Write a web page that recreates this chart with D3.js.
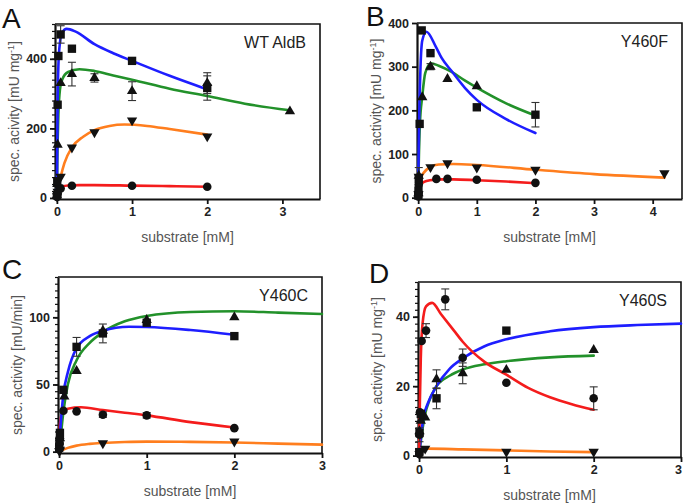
<!DOCTYPE html>
<html>
<head>
<meta charset="utf-8">
<script src="https://cdn.jsdelivr.net/npm/d3@7"></script>
<style>
  body { margin: 0; background: #fff; }
  svg { display: block; }
</style>
</head>
<body>
<div id="chart"></div>
<script>
// ---- data: [substrate mM, activity, error] ----

// A: WT AldB
var wtSquares = [[0.002,8],[0.005,48],[0.01,268],[0.02,408],[0.05,470,25],[0.2,429],[1,394],[2,316,35]];
var wtTriangles = [[0.002,8],[0.005,40],[0.01,153],[0.05,330],[0.2,356,34],[0.5,345,12],[1,307,27],[2,330,30],[3.1,249]];
var wtInverted = [[0.002,5],[0.01,18],[0.02,30],[0.05,61],[0.2,145],[0.5,189],[1,223],[2,177]];
var wtCircles = [[0.002,3],[0.005,8],[0.01,14],[0.05,27],[0.2,35],[1,35],[2,32]];
var wtBlueFit = [[0,0],[0.005,150],[0.01,270],[0.02,380],[0.04,445],[0.07,475],[0.13,486],[0.25,478],[0.5,442],[0.75,416],[1,394],[1.5,351],[2,312]];
var wtGreenFit = [[0,0],[0.005,100],[0.01,160],[0.02,240],[0.04,310],[0.07,340],[0.15,362],[0.3,370],[0.5,365],[0.75,352],[1,340],[1.5,314],[2,293],[2.5,271],[3.1,252]];
var wtOrangeFit = [[0,0],[0.02,30],[0.05,60],[0.1,100],[0.2,145],[0.35,176],[0.5,195],[0.7,207],[0.9,211],[1.2,207],[1.5,198],[2,182]];
var wtRedFit = [[0,0],[0.01,15],[0.03,27],[0.07,33],[0.15,36],[0.3,37],[0.5,37],[1,35.5],[1.5,34],[2,32]];

// B: Y460F
var fSquares = [[0.002,5],[0.005,16],[0.01,43],[0.025,169],[0.06,383],[0.21,331],[1,207],[2,190,28]];
var fTriangles = [[0.005,10],[0.01,50],[0.07,230],[0.21,300,7],[0.5,272],[1,255]];
var fInverted = [[0.005,8],[0.01,48,21],[0.21,70],[0.5,79],[1,69],[2,64],[4.2,56]];
var fCircles = [[0.002,3],[0.005,12],[0.01,30],[0.31,43],[0.5,43],[1,41],[2,34]];
var fBlueFit = [[0,0],[0.005,60],[0.01,120],[0.02,200],[0.04,300],[0.07,360],[0.14,380],[0.3,346],[0.4,320],[0.57,290],[0.8,251],[1,224],[1.5,180],[2,148]];
var fGreenFit = [[0,0],[0.01,80],[0.03,170],[0.07,232],[0.12,285],[0.22,308],[0.35,302],[0.57,288],[0.8,268],[1,252],[1.5,216],[2,188]];
var fOrangeFit = [[0,0],[0.01,12],[0.03,35],[0.07,52],[0.1,58],[0.2,70],[0.35,76],[0.6,77],[1,75],[2,64],[3,54],[4.2,46]];
var fRedFit = [[0,0],[0.01,15],[0.03,28],[0.1,36],[0.2,40],[0.4,42],[0.6,42],[1,40],[1.5,37],[2,33]];

// C: Y460C
var cSquares = [[0.002,3],[0.005,8],[0.01,14],[0.05,46],[0.2,78,7],[0.5,88,7],[1,96],[2,86]];
var cTriangles = [[0.005,4],[0.01,10],[0.06,41],[0.2,60],[0.5,90],[1,98],[2,100]];
var cInverted = [[0.005,0.5],[0.01,1.5],[0.5,6.3],[2,7.5]];
var cCircles = [[0.002,2],[0.005,6],[0.01,10],[0.05,30.5],[0.2,30],[0.5,27.5,2],[1,27,2],[2,17.5]];
var cBlueFit = [[0,0],[0.01,12],[0.03,30],[0.05,43],[0.1,59],[0.2,77],[0.35,86],[0.5,90],[0.8,93],[1,92.8],[1.5,90.5],[2,87]];
var cGreenFit = [[0,0],[0.02,12],[0.05,30],[0.1,50],[0.2,68],[0.35,81],[0.5,89],[0.75,97],[1,101],[1.5,104],[2,104.5],[2.5,103.5],[3,102.5]];
var cOrangeFit = [[0,0],[0.05,1.5],[0.1,2.8],[0.2,4.5],[0.35,5.8],[0.5,6.5],[0.75,7.2],[1,7.5],[1.5,7.3],[2,6.8],[2.5,6],[3,5.2]];
var cRedFit = [[0,0],[0.005,15],[0.02,25],[0.05,30],[0.1,32],[0.25,33],[0.5,31],[0.75,29],[1,27],[1.5,22],[2,18]];

// D: Y460S
var sSquares = [[0.002,1],[0.005,6.5],[0.02,12],[0.2,16.5,3],[1,36]];
var sTriangles = [[0.005,7],[0.02,10],[0.07,11],[0.2,22,2.7],[0.5,23.7,3],[1,24.7],[2,30.4]];
var sInverted = [[0.005,0.5],[0.07,2],[1,1.1],[2,1.1]];
var sCircles = [[0.002,0.5],[0.005,6,2],[0.01,12.5],[0.03,33],[0.08,36,2],[0.3,45,3],[0.5,28.2,2.5],[1,21],[2,16.5,3.3]];
var sBlueFit = [[0,0],[0.02,5],[0.05,11],[0.1,15],[0.2,20],[0.35,25],[0.5,28],[0.75,31.5],[1,33.5],[1.5,35.8],[2,37],[2.5,37.6],[3,38]];
var sGreenFit = [[0,0],[0.03,6],[0.07,12],[0.12,16],[0.2,20],[0.35,23],[0.5,24.8],[0.75,26.3],[1,27.2],[1.5,28.3],[2,28.8]];
var sOrangeFit = [[0,0],[0.01,1],[0.05,1.8],[0.1,2],[0.5,1.8],[1,1.5],[1.5,1.2],[2,1]];
var sRedFit = [[0,0],[0.005,8],[0.01,16],[0.02,28],[0.04,38],[0.08,43],[0.15,44],[0.25,40.8],[0.4,36],[0.5,32.8],[0.75,27],[1,23.3],[1.25,19.5],[1.5,16.8],[1.75,14.8],[2,13.2]];

// tick labels
var ticksA = [0, 200, 400];
var ticksB = [0, 100, 200, 300, 400];
var ticksC = [0, 50, 100];
var ticksD = [0, 20, 40];
var xTicks3 = [0, 1, 2, 3];
var xTicks4 = [0, 1, 2, 3, 4];
// -------------------------------------------------------------

var colors = { sq: "#1e1eff", tri: "#22912a", inv: "#ff7e1e", cir: "#f41c1c" };

var svg = d3.select("#chart").append("svg")
  .attr("width", 685)
  .attr("height", 503);

var panels = [
  { letter: "A", lx: 2, ly: 28, title: "WT AldB", ylab: "spec. acivity [mU mg", sup: true,
    box: { l: 55, r: 320, t: 24, b: 199 }, xd: [-0.025, 3.5], yd: [-3, 500],
    xt: xTicks3, yt: ticksA, minor: 20,
    sq: wtSquares, tri: wtTriangles, inv: wtInverted, cir: wtCircles,
    fits: [[wtOrangeFit, "inv"], [wtRedFit, "cir"], [wtGreenFit, "tri"], [wtBlueFit, "sq"]] },
  { letter: "B", lx: 366, ly: 26, title: "Y460F", ylab: "spec. activity [mU mg", sup: true,
    box: { l: 417, r: 682, t: 23, b: 199 }, xd: [-0.02, 4.5], yd: [-3, 400],
    xt: xTicks4, yt: ticksB, minor: 0,
    sq: fSquares, tri: fTriangles, inv: fInverted, cir: fCircles,
    fits: [[fOrangeFit, "inv"], [fRedFit, "cir"], [fGreenFit, "tri"], [fBlueFit, "sq"]] },
  { letter: "C", lx: 2, ly: 279, title: "Y460C", ylab: "spec. activity [mU/min]", sup: false,
    box: { l: 58, r: 322, t: 277, b: 453 }, xd: [-0.012, 3], yd: [-1, 130],
    xt: xTicks3, yt: ticksC, minor: 5,
    sq: cSquares, tri: cTriangles, inv: cInverted, cir: cCircles,
    fits: [[cOrangeFit, "inv"], [cRedFit, "cir"], [cGreenFit, "tri"], [cBlueFit, "sq"]] },
  { letter: "D", lx: 369, ly: 283, title: "Y460S", ylab: "spec. activity [mU mg", sup: true,
    box: { l: 418, r: 681, t: 282, b: 457 }, xd: [-0.012, 3], yd: [-0.4, 50],
    xt: xTicks3, yt: ticksD, minor: 2,
    sq: sSquares, tri: sTriangles, inv: sInverted, cir: sCircles,
    fits: [[sOrangeFit, "inv"], [sGreenFit, "tri"], [sBlueFit, "sq"], [sRedFit, "cir"]] }
];

panels.forEach(drawPanel);

function drawPanel(p) {
  var b = p.box;
  var x = d3.scaleLinear().domain(p.xd).range([b.l, b.r]);
  var y = d3.scaleLinear().domain(p.yd).range([b.b, b.t]);
  var g = svg.append("g");

  // thin frame on top and right
  g.append("path")
    .attr("d", "M" + b.l + "," + b.t + "H" + b.r + "V" + b.b)
    .attr("fill", "none")
    .attr("stroke", "#111")
    .attr("stroke-width", 1.6);

  // minor y ticks
  if (p.minor) {
    var minorVals = d3.range(0, p.yd[1] + 0.001, p.minor);
    g.append("g")
      .attr("transform", "translate(" + b.l + ",0)")
      .call(d3.axisLeft(y).tickValues(minorVals).tickSize(3).tickFormat(""))
      .call(function (s) { s.select(".domain").remove(); })
      .selectAll("line").attr("stroke", "#111").attr("stroke-width", 1.2);
  }

  var yAxis = g.append("g")
    .attr("transform", "translate(" + b.l + ",0)")
    .call(d3.axisLeft(y).tickValues(p.yt).tickSize(5).tickSizeOuter(0).tickPadding(3).tickFormat(d3.format("d")));
  var xAxis = g.append("g")
    .attr("transform", "translate(0," + b.b + ")")
    .call(d3.axisBottom(x).tickValues(p.xt).tickSize(5).tickSizeOuter(0).tickPadding(3).tickFormat(d3.format("d")));

  [yAxis, xAxis].forEach(function (ax) {
    ax.select(".domain").attr("stroke", "#111").attr("stroke-width", 2.2);
    ax.selectAll(".tick line").attr("stroke", "#111").attr("stroke-width", 1.8);
    ax.selectAll("text")
      .attr("fill", "#222")
      .style("font-family", "'Liberation Sans', Arial, sans-serif")
      .style("font-size", "12.5px")
      .style("font-weight", "bold");
  });

  // keep a tick label at the far right edge inside the page
  xAxis.selectAll(".tick text")
    .attr("dx", function (d) { return x(d) + 5 > 685 ? -3 : 0; });

  // fitted curves
  var line = d3.line()
    .x(function (d) { return x(d[0]); })
    .y(function (d) { return y(d[1]); })
    .curve(d3.curveMonotoneX);
  p.fits.forEach(function (f) {
    g.append("path")
      .datum(f[0])
      .attr("d", line)
      .attr("fill", "none")
      .attr("stroke", colors[f[1]])
      .attr("stroke-width", 2.6)
      .attr("stroke-linecap", "round");
  });

  // error bars
  var allPts = [].concat(p.sq, p.tri, p.inv, p.cir).filter(function (d) { return d[2]; });
  var eb = g.append("g").attr("stroke", "#333").attr("stroke-width", 1.1);
  allPts.forEach(function (d) {
    var cx = x(d[0]);
    eb.append("line").attr("x1", cx).attr("x2", cx).attr("y1", y(d[1] - d[2])).attr("y2", y(d[1] + d[2]));
    [d[1] - d[2], d[1] + d[2]].forEach(function (v) {
      eb.append("line").attr("x1", cx - 4).attr("x2", cx + 4).attr("y1", y(v)).attr("y2", y(v));
    });
  });

  // markers
  var sym = {
    sq: d3.symbol().type(d3.symbolSquare).size(70),
    tri: d3.symbol().type(d3.symbolTriangle).size(46),
    inv: d3.symbol().type(d3.symbolTriangle).size(46),
    cir: d3.symbol().type(d3.symbolCircle).size(58)
  };
  ["inv", "cir", "tri", "sq"].forEach(function (k) {
    g.selectAll(".m" + k)
      .data(p[k])
      .enter().append("path")
      .attr("d", sym[k])
      .attr("fill", "#111")
      .attr("transform", function (d) {
        return "translate(" + x(d[0]) + "," + y(d[1]) + ")" + (k === "inv" ? " rotate(180)" : "");
      });
  });

  // panel letter
  svg.append("text")
    .attr("x", p.lx).attr("y", p.ly)
    .style("font-family", "'Liberation Sans', Arial, sans-serif")
    .style("font-size", "28px")
    .attr("fill", "#111")
    .text(p.letter);

  // inner title
  svg.append("text")
    .attr("x", b.r - 14).attr("y", b.t + 24)
    .attr("text-anchor", "end")
    .style("font-family", "'Liberation Sans', Arial, sans-serif")
    .style("font-size", "16px")
    .attr("fill", "#222")
    .text(p.title);

  // x label
  svg.append("text")
    .attr("x", (b.l + b.r) / 2).attr("y", b.b + 43)
    .attr("text-anchor", "middle")
    .style("font-family", "'Liberation Sans', Arial, sans-serif")
    .style("font-size", "14px")
    .attr("fill", "#555")
    .text("substrate [mM]");

  // y label
  var yl = svg.append("text")
    .attr("transform", "translate(" + (b.l - 36) + "," + ((b.t + b.b) / 2) + ") rotate(-90)")
    .attr("text-anchor", "middle")
    .style("font-family", "'Liberation Sans', Arial, sans-serif")
    .style("font-size", "14px")
    .attr("fill", "#555");
  yl.append("tspan").text(p.ylab);
  if (p.sup) {
    yl.append("tspan").attr("dy", -5).style("font-size", "9px").text("-1");
    yl.append("tspan").attr("dy", 5).text("]");
  }
}
</script>
</body>
</html>
